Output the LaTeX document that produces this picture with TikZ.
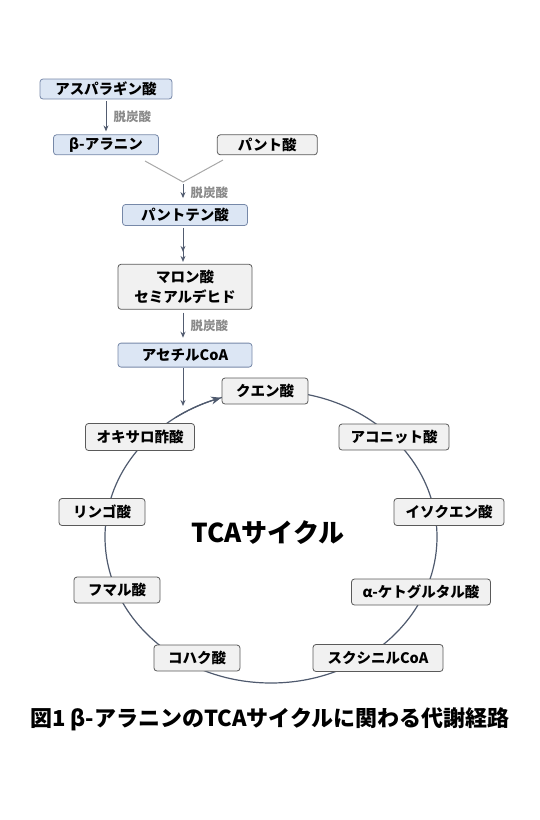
\documentclass[tikz,border=0pt]{standalone}
\usepackage{fontspec}
\setmainfont{Noto Sans CJK JP}
\usepackage{tikz}
\usetikzlibrary{positioning, arrows.meta}

\definecolor{boxblue}{HTML}{DCE6F4}
\definecolor{edgeblue}{HTML}{7688A8}
\definecolor{boxgray}{HTML}{F1F1F1}
\definecolor{edgegray}{HTML}{5A5A5A}
\definecolor{flowgray}{HTML}{525C70}
\definecolor{mergegray}{HTML}{A8A8A8}
\definecolor{lblgray}{HTML}{8A8A8A}
\definecolor{cycgray}{HTML}{4F5A6E}

\begin{document}
\begin{tikzpicture}[
    x=1pt, y=-1pt,
    box/.style={rectangle, rounded corners=3pt, draw, line width=0.8pt, inner sep=0pt, align=center, font=\bfseries\fontsize{14.5}{19.5}\selectfont},
    bluebox/.style={box, fill=boxblue, draw=edgeblue},
    graybox/.style={box, fill=boxgray, draw=edgegray},
    lbl/.style={text=lblgray, font=\bfseries\fontsize{12.5}{14}\selectfont, inner sep=0pt},
    flow/.style={draw=flowgray, line width=1pt, -{Stealth[length=6pt, width=5pt]}},
    merge/.style={draw=mergegray, line width=1pt},
    cyc/.style={draw=cycgray, line width=1.2pt}
]
\useasboundingbox (0,0) rectangle (540,820);

% Upper pathway
\node[bluebox, minimum width=132pt, minimum height=20pt] (asp) at (106,89) {アスパラギン酸};
\node[bluebox, minimum width=105pt, minimum height=20pt, below=35pt of asp] (bala) {β-アラニン};
\node[graybox, minimum width=100pt, minimum height=20pt, right=58pt of bala] (pant) {パント酸};
\node[bluebox, minimum width=125pt, minimum height=21pt] (pan) at (185,215) {パントテン酸};
\node[graybox, minimum width=134pt, minimum height=45pt, below=38pt of pan] (mal) {マロン酸\\セミアルデヒド};
\node[bluebox, minimum width=134pt, minimum height=24pt, below=33pt of mal] (acoa) {アセチルCoA};

\coordinate (yl) at (145,161);
\coordinate (yr) at (223,160);
\coordinate (jn) at (183,182);
\coordinate (entry) at (183,406);

% Edges and annotations
\draw[flow, shorten <=2pt, shorten >=3pt] (asp.south) -- (bala.north)
    node[midway, right=7pt, lbl] {脱炭酸};
\draw[merge] (yl) -- (jn) -- (yr);
\draw[flow, shorten <=2pt, shorten >=6pt] (jn) -- (jn |- pan.north)
    node[midway, right=7pt, lbl] {脱炭酸};
\draw[flow, shorten <=2pt, shorten >=2pt, -{Stealth[length=6pt, width=5pt, sep=4pt]Stealth[length=6pt, width=5pt]}]
    (jn |- pan.south) -- (jn |- mal.north);
\draw[flow, shorten <=3pt, shorten >=5pt] (jn |- mal.south) -- (jn |- acoa.north)
    node[midway, right=7pt, lbl] {脱炭酸};
\draw[flow] (jn |- acoa.south) -- (entry);

% TCA cycle
\draw[cyc] (271,537) ellipse [x radius=166pt, y radius=146pt];
\draw[cyc, -{Stealth[length=10pt, width=8pt]}]
    plot[domain=125:107.5, samples=15] ({271+166*cos(\x)}, {537-146*sin(\x)});

\node[graybox, minimum width=86pt, minimum height=26pt] (cit) at (265,391) {クエン酸};
\node[graybox, minimum width=110pt, minimum height=26pt] (aco) at (394,437) {アコニット酸};
\node[graybox, minimum width=110pt, minimum height=27pt] (iso) at (449,512) {イソクエン酸};
\node[graybox, minimum width=139pt, minimum height=26pt] (akg) at (421,592) {α-ケトグルタル酸};
\node[graybox, minimum width=130pt, minimum height=27pt] (suc) at (378,658) {スクシニルCoA};
\node[graybox, minimum width=86pt, minimum height=26pt] (sca) at (197,658) {コハク酸};
\node[graybox, minimum width=86pt, minimum height=26pt] (fum) at (117,590) {フマル酸};
\node[graybox, minimum width=86pt, minimum height=27pt] (mla) at (102,512) {リンゴ酸};
\node[graybox, minimum width=109pt, minimum height=27pt] (oxa) at (140,437) {オキサロ酢酸};

\node[font=\bfseries\fontsize{26}{30}\selectfont] (tca) at (268,533) {TCAサイクル};

% Caption
\node[font=\bfseries\fontsize{22}{26}\selectfont] (cap) at (270,719) {図1 β-アラニンのTCAサイクルに関わる代謝経路};

\end{tikzpicture}
\end{document}
